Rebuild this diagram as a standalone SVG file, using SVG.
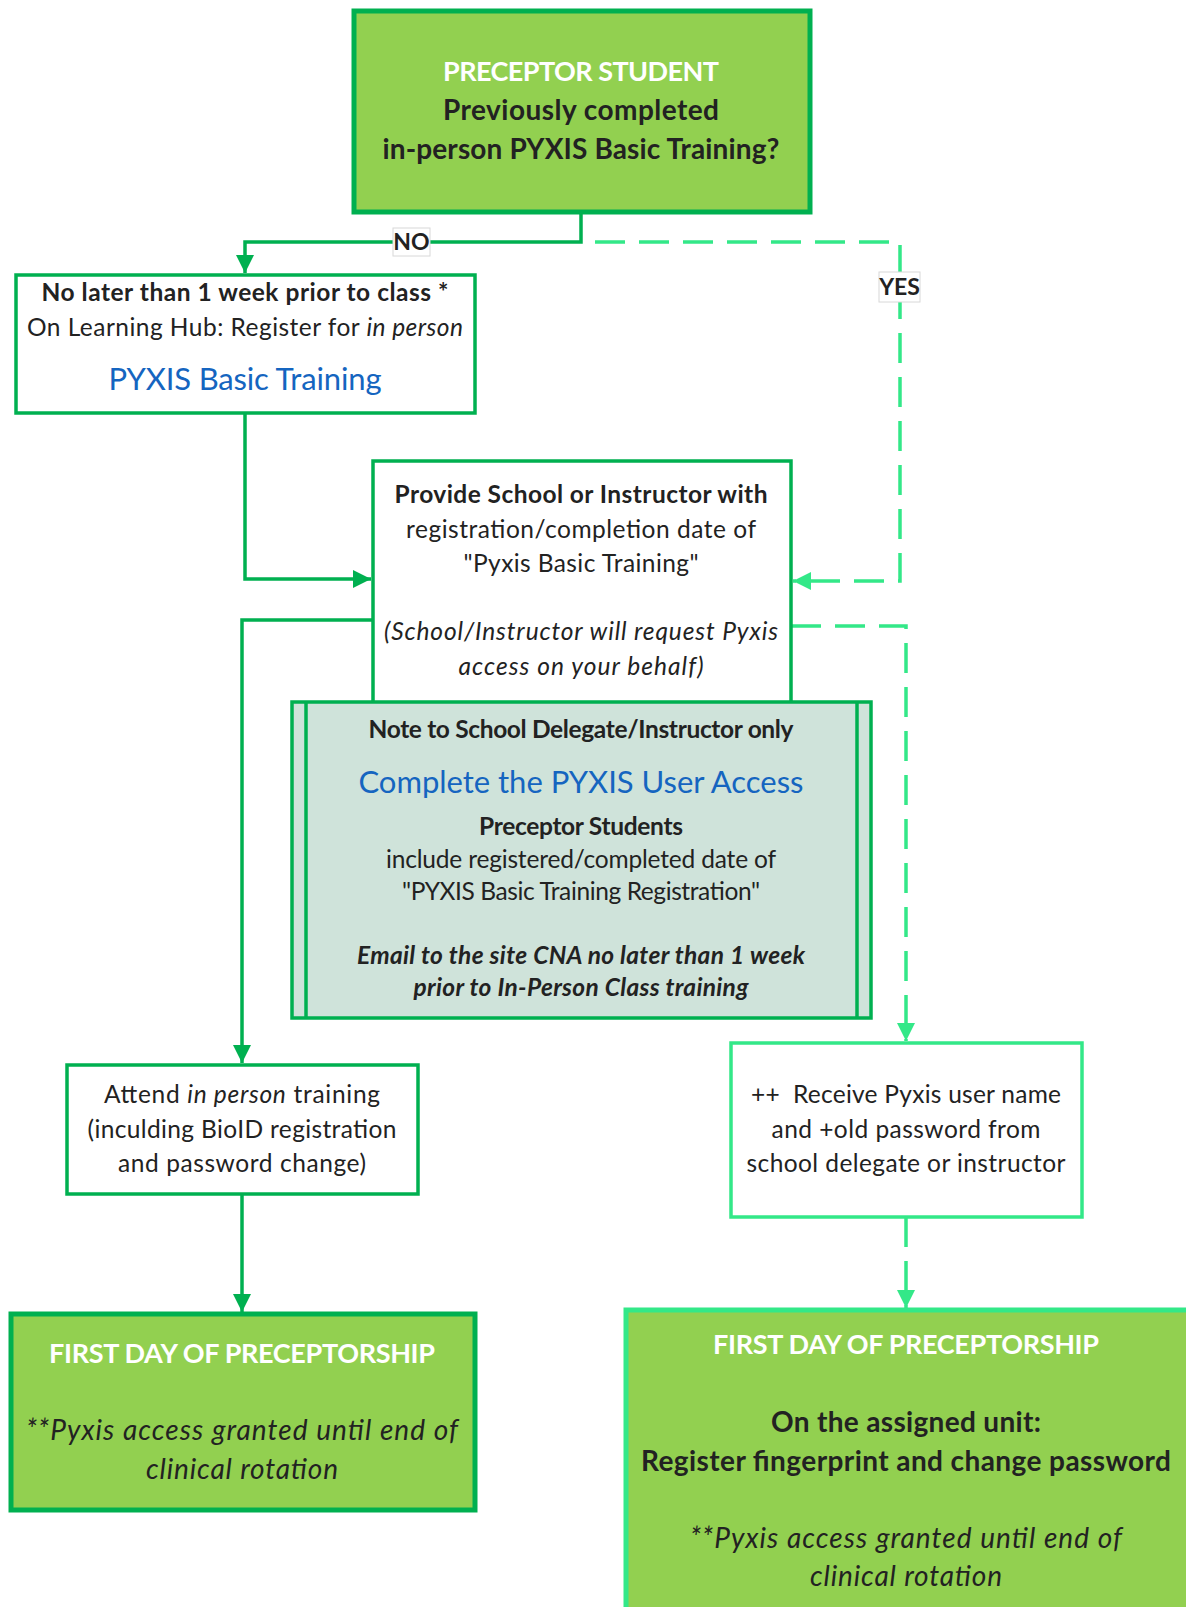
<svg xmlns="http://www.w3.org/2000/svg" width="1186" height="1607" viewBox="0 0 1186 1607">
<style>
text{font-family:Lato,"Open Sans","Liberation Sans",sans-serif;fill:#222;text-anchor:middle}
.t{font-size:24.5px}
.b{font-weight:bold}
.i{font-style:italic}
.w{fill:#fff;font-weight:bold;font-size:27px}
.blue{fill:#1565c0;font-size:31px}
.bx{fill:#fff;stroke:#00b050;stroke-width:3.5}
.bxl{fill:#fff;stroke:#33e888;stroke-width:3.5}
.gr{fill:#92d050;stroke:#00b050;stroke-width:5}
.grl{fill:#92d050;stroke:#33e888;stroke-width:5}
.note{fill:#cfe3da;stroke:#00b050;stroke-width:3.5}
.c{fill:none;stroke:#00b050;stroke-width:3.5}
.d{fill:none;stroke:#33e888;stroke-width:3.5;stroke-dasharray:30,14}
.lbl{fill:#fff;stroke:#d8d8d8;stroke-width:1}
</style>
<defs>
<marker id="a" markerUnits="userSpaceOnUse" markerWidth="20" markerHeight="18" refX="18" refY="9" orient="auto"><path d="M0,0 L18,9 L0,18 z" fill="#00b050"/></marker>
<marker id="al" markerUnits="userSpaceOnUse" markerWidth="20" markerHeight="18" refX="18" refY="9" orient="auto"><path d="M0,0 L18,9 L0,18 z" fill="#33e888"/></marker>
</defs>
<rect width="1186" height="1607" fill="#fff"/>
<g id="connectors">
<path class="c" d="M581,212 V242 H245 V273" marker-end="url(#a)"/>
<path class="d" d="M595,242 H900 V581 H793" marker-end="url(#al)"/>
<path class="c" d="M245,413 V579 H371" marker-end="url(#a)"/>
<path class="c" d="M373,620 H242 V1063" marker-end="url(#a)"/>
<path class="d" d="M791,626 H906 V1041" marker-end="url(#al)"/>
<path class="c" d="M242,1194 V1312" marker-end="url(#a)"/>
<path class="d" d="M906,1217 V1308" marker-end="url(#al)"/>
<g id="label-no"><rect class="lbl" x="393" y="228" width="37" height="28"/><text class="b" x="411.5" y="250" font-size="23">NO</text></g>
<g id="label-yes"><rect class="lbl" x="879" y="272" width="41" height="30"/><text class="b" x="899.5" y="295" font-size="23">YES</text></g>
</g>
<g id="start">
<rect class="gr" x="354" y="11" width="456" height="201"/>
<text class="w" x="581" y="81" textLength="276">PRECEPTOR STUDENT</text>
<text class="b" x="581" y="120" font-size="28" textLength="276">Previously completed</text>
<text class="b" x="581" y="159" font-size="28" textLength="397">in-person PYXIS Basic Training?</text>
</g>
<g id="register">
<rect class="bx" x="16" y="275" width="459" height="138"/>
<text class="t b" x="245" y="301" textLength="407">No later than 1 week prior to class *</text>
<text class="t" x="245" y="336" textLength="436">On Learning Hub: Register for <tspan class="i">in person</tspan></text>
<text class="blue" x="245" y="390" textLength="273">PYXIS Basic Training</text>
</g>
<g id="provide">
<rect class="bx" x="373" y="461" width="418" height="260"/>
<text class="t b" x="581" y="503" textLength="373">Provide School or Instructor with</text>
<text class="t" x="581" y="538" textLength="350">registration/completion date of</text>
<text class="t" x="581" y="572" textLength="235">"Pyxis Basic Training"</text>
<text class="t i" x="581" y="640" textLength="394">(School/Instructor will request Pyxis</text>
<text class="t i" x="581" y="675" textLength="245">access on your behalf)</text>
</g>
<g id="note">
<rect class="note" x="292" y="702" width="579" height="316"/>
<line class="c" x1="306" y1="702" x2="306" y2="1018"/>
<line class="c" x1="857" y1="702" x2="857" y2="1018"/>
<text class="t b" x="581" y="738" textLength="425">Note to School Delegate/Instructor only</text>
<text class="blue" x="581" y="793" textLength="445">Complete the PYXIS User Access</text>
<text class="t b" x="581" y="835" textLength="204">Preceptor Students</text>
<text class="t" x="581" y="868" textLength="390">include registered/completed date of</text>
<text class="t" x="581" y="900" textLength="358">"PYXIS Basic Training Registration"</text>
<text class="t b i" x="581" y="964" textLength="448">Email to the site CNA no later than 1 week</text>
<text class="t b i" x="581" y="996" textLength="335">prior to In-Person Class training</text>
</g>
<g id="attend">
<rect class="bx" x="67" y="1065" width="351" height="129"/>
<text class="t" x="242" y="1103" textLength="276">Attend <tspan class="i">in person</tspan> training</text>
<text class="t" x="242" y="1138" textLength="309">(inculding BioID registration</text>
<text class="t" x="242" y="1172" textLength="248">and password change)</text>
</g>
<g id="receive">
<rect class="bxl" x="731" y="1043" width="351" height="174"/>
<text class="t" x="906" y="1103" textLength="310" xml:space="preserve">++  Receive Pyxis user name</text>
<text class="t" x="906" y="1138" textLength="269">and +old password from</text>
<text class="t" x="906" y="1172" textLength="319">school delegate or instructor</text>
</g>
<g id="first-day-left">
<rect class="gr" x="11" y="1314" width="464" height="196"/>
<text class="w" x="242" y="1363" textLength="386">FIRST DAY OF PRECEPTORSHIP</text>
<text class="i" x="242" y="1440" font-size="28" textLength="432">**Pyxis access granted until end of</text>
<text class="i" x="242" y="1479" font-size="28" textLength="192">clinical rotation</text>
</g>
<g id="first-day-right">
<rect class="grl" x="626" y="1310" width="575" height="310"/>
<text class="w" x="906" y="1354" textLength="386">FIRST DAY OF PRECEPTORSHIP</text>
<text class="b" x="906" y="1432" font-size="28" textLength="270">On the assigned unit:</text>
<text class="b" x="906" y="1471" font-size="28" textLength="530">Register fingerprint and change password</text>
<text class="i" x="906" y="1548" font-size="28" textLength="432">**Pyxis access granted until end of</text>
<text class="i" x="906" y="1586" font-size="28" textLength="192">clinical rotation</text>
</g>
</svg>
